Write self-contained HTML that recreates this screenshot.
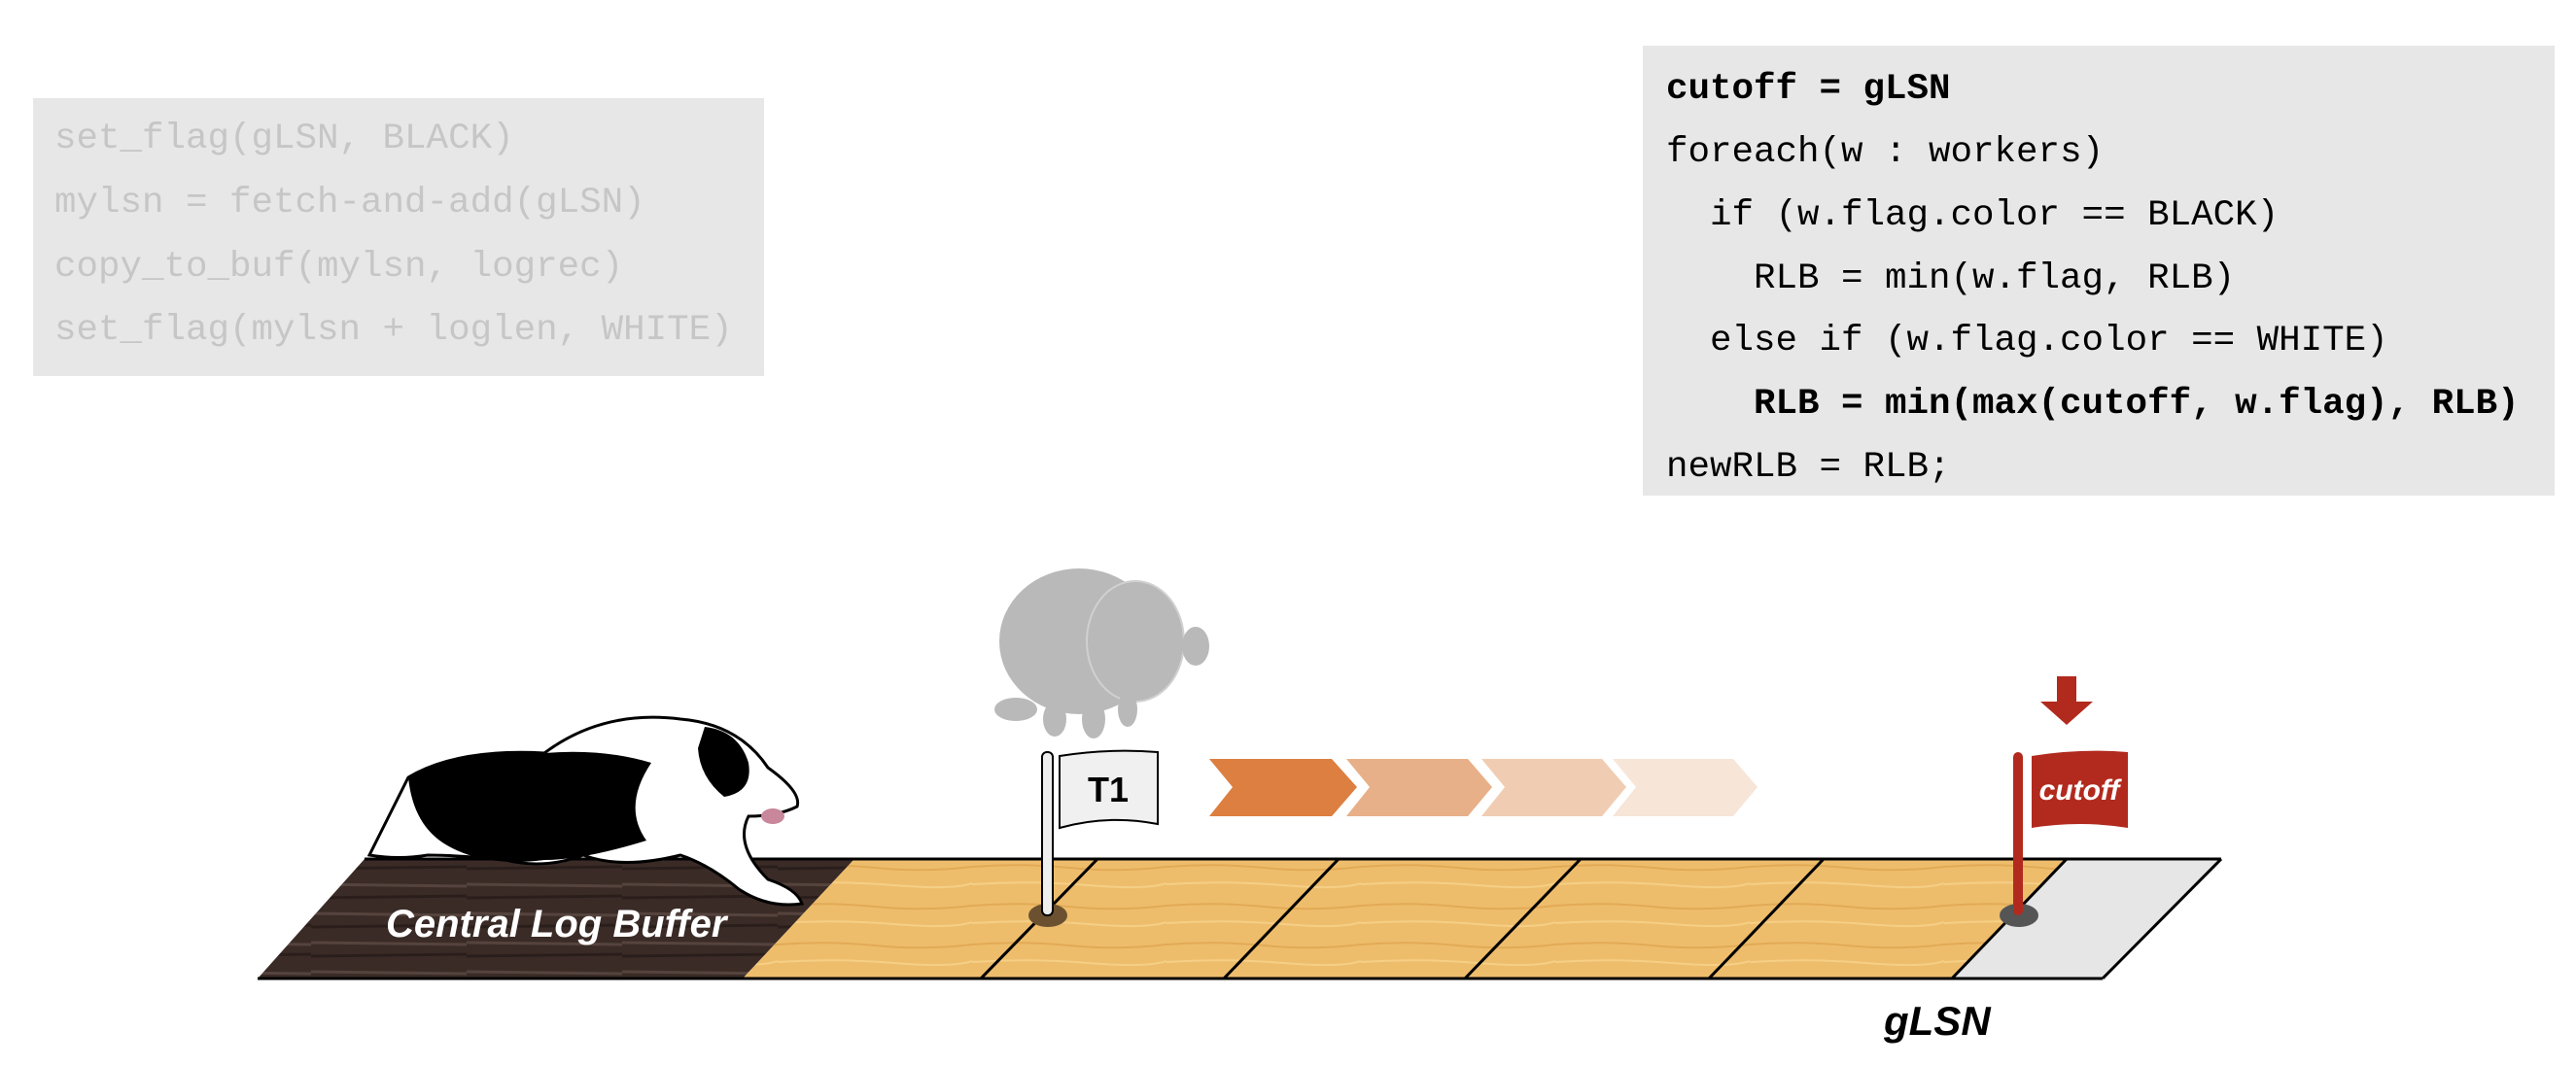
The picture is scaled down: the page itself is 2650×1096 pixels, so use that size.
<!DOCTYPE html>
<html><head><meta charset="utf-8"><style>
html,body{margin:0;padding:0;background:#fff;width:2650px;height:1096px;overflow:hidden}
svg{display:block}
.mono{font-family:"Liberation Mono",monospace;font-size:37.5px}
</style></head><body>
<svg width="2650" height="1096" viewBox="0 0 2650 1096" xmlns="http://www.w3.org/2000/svg">
<defs>
<pattern id="wood" width="200" height="40" patternUnits="userSpaceOnUse">
<rect width="200" height="40" fill="#eebd6c"/>
<path d="M0 12 Q50 8 100 13 T200 12" stroke="#e2aa55" stroke-width="2" fill="none"/>
<path d="M0 30 Q60 26 120 31 T200 29" stroke="#f5cf86" stroke-width="2" fill="none"/>
</pattern>
<pattern id="darkwood" width="160" height="30" patternUnits="userSpaceOnUse">
<rect width="160" height="30" fill="#3a2b27"/>
<path d="M0 10 L160 12" stroke="#55433d" stroke-width="3"/>
<path d="M0 24 L160 22" stroke="#2a1e1b" stroke-width="3"/>
</pattern>
</defs>

<g>
<rect x="34" y="101" width="752" height="286" fill="#e7e7e7"/>
<g class="mono" fill="#c6c6c6">
<text x="56" y="152">set_flag(gLSN, BLACK)</text>
<text x="56" y="218">mylsn = fetch-and-add(gLSN)</text>
<text x="56" y="284">copy_to_buf(mylsn, logrec)</text>
<text x="56" y="349">set_flag(mylsn + loglen, WHITE)</text>
</g>
</g>

<g>
<rect x="1690" y="47" width="938" height="463" fill="#e7e7e7"/>
<g class="mono" fill="#000">
<text x="1714" y="101" font-weight="bold">cutoff = gLSN</text>
<text x="1714" y="166">foreach(w : workers)</text>
<text x="1759" y="231">if (w.flag.color == BLACK)</text>
<text x="1804" y="296">RLB = min(w.flag, RLB)</text>
<text x="1759" y="360">else if (w.flag.color == WHITE)</text>
<text x="1804" y="425" font-weight="bold">RLB = min(max(cutoff, w.flag), RLB)</text>
<text x="1714" y="490">newRLB = RLB;</text>
</g>
</g>

<g>
<polygon points="375,884 879,884 764,1007 265,1007" fill="url(#darkwood)"/>
<polygon points="879,884 2126,884 2008,1007 764,1007" fill="url(#wood)"/>
<polygon points="2126,884 2285,884 2163,1007 2008,1007" fill="#e6e6e6"/>
<g stroke="#000" stroke-width="3" fill="none">
<line x1="375" y1="884" x2="2285" y2="884"/>
<line x1="265" y1="1007" x2="2163" y2="1007"/>
<line x1="2285" y1="884" x2="2163" y2="1007"/>
<line x1="1129" y1="884" x2="1009" y2="1007"/>
<line x1="1377" y1="884" x2="1259" y2="1007"/>
<line x1="1626" y1="884" x2="1507" y2="1007"/>
<line x1="1876" y1="884" x2="1758" y2="1007"/>
<line x1="2126" y1="884" x2="2008" y2="1007"/>
</g>
<text x="397" y="964" font-family="Liberation Sans, sans-serif" font-weight="bold" font-style="italic" font-size="40" fill="#fff">Central Log Buffer</text>
<text x="1938" y="1065" font-family="Liberation Sans, sans-serif" font-weight="bold" font-style="italic" font-size="42" fill="#000">gLSN</text>
</g>

<g>
<path d="M380 880 Q400 840 420 800 Q470 770 560 775 Q620 730 700 740 Q760 745 790 790 Q825 815 820 830 Q800 840 770 840 Q755 870 790 905 Q820 915 825 930 Q790 935 760 915 Q730 890 700 880 Q640 895 600 880 Q560 895 520 885 Q470 880 440 880 Q410 885 380 880 Z" fill="#fff" stroke="#000" stroke-width="3"/>
<path d="M420 800 Q470 772 560 775 Q620 770 670 785 Q640 830 665 865 Q600 885 560 885 Q500 893 460 870 Q425 850 420 800 Z" fill="#000"/>
<path d="M725 748 Q760 752 770 785 Q775 815 745 820 Q720 800 718 770 Z" fill="#000"/>
<ellipse cx="795" cy="840" rx="12" ry="8" fill="#c8879b"/>
</g>

<g fill="#b9b9b9">
<ellipse cx="1110" cy="660" rx="82" ry="75"/>
<ellipse cx="1168" cy="660" rx="50" ry="62" stroke="#d0d0d0" stroke-width="2"/>
<ellipse cx="1230" cy="665" rx="14" ry="20"/>
<ellipse cx="1045" cy="730" rx="22" ry="12"/>
<ellipse cx="1085" cy="740" rx="12" ry="18"/>
<ellipse cx="1125" cy="740" rx="12" ry="20"/>
<ellipse cx="1160" cy="730" rx="10" ry="18"/>
</g>

<g>
<polygon points="1244,781 1370,781 1396,810 1370,840 1244,840 1268,810" fill="#dc7f41"/>
<polygon points="1385,781 1510,781 1535,810 1510,840 1385,840 1409,810" fill="#e8b088"/>
<polygon points="1524,781 1648,781 1673,810 1648,840 1524,840 1548,810" fill="#f0cdb2"/>
<polygon points="1659,781 1783,781 1808,810 1783,840 1659,840 1683,810" fill="#f7e5d8"/>
</g>

<g>
<ellipse cx="1078" cy="942" rx="20" ry="12" fill="#6b5130"/>
<rect x="1072" y="774" width="11" height="168" rx="5" fill="#eee" stroke="#000" stroke-width="2"/>
<path d="M1090 778 Q1140 770 1191 774 L1191 848 Q1140 838 1090 852 Z" fill="#f0f0f0" stroke="#000" stroke-width="2"/>
<text x="1140" y="825" text-anchor="middle" font-family="Liberation Sans, sans-serif" font-weight="bold" font-size="36" fill="#000">T1</text>
</g>

<g>
<ellipse cx="2077" cy="942" rx="20" ry="12" fill="#555"/>
<rect x="2071" y="774" width="10" height="168" rx="5" fill="#b22a1e"/>
<path d="M2090 778 Q2140 770 2189 774 L2189 852 Q2140 844 2090 852 Z" fill="#b22a1e"/>
<text x="2139" y="823" text-anchor="middle" font-family="Liberation Sans, sans-serif" font-weight="bold" font-style="italic" font-size="30" fill="#fff">cutoff</text>
<polygon points="2116,696 2136,696 2136,722 2153,722 2126,746 2099,722 2116,722" fill="#b22a1e"/>
</g>
</svg>
</body></html>
